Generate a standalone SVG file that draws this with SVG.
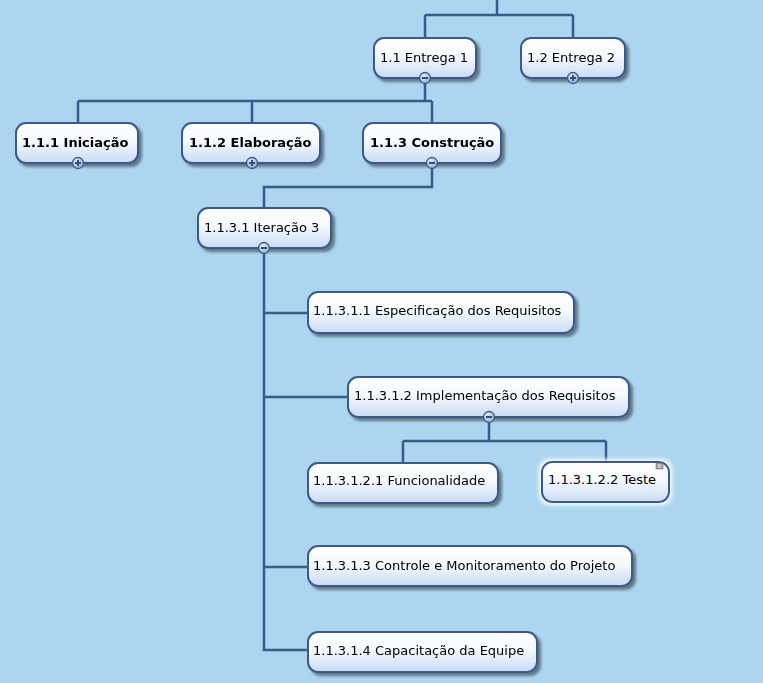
<svg xmlns="http://www.w3.org/2000/svg" width="763" height="683" viewBox="0 0 763 683">
<defs>
<linearGradient id="ng" x1="0" y1="0" x2="0" y2="1">
<stop offset="0" stop-color="#ffffff"/>
<stop offset="0.45" stop-color="#f6f9fe"/>
<stop offset="1" stop-color="#c9dbf3"/>
</linearGradient>
<radialGradient id="bg" cx="0.4" cy="0.35" r="0.7">
<stop offset="0" stop-color="#e6eef7"/>
<stop offset="1" stop-color="#8ea9c9"/>
</radialGradient>
<filter id="sh" x="-10%" y="-20%" width="125%" height="150%">
<feGaussianBlur in="SourceAlpha" stdDeviation="1.5"/>
<feOffset dx="3" dy="3" result="b"/>
<feComponentTransfer><feFuncA type="linear" slope="0.45"/></feComponentTransfer>
<feMerge><feMergeNode/><feMergeNode in="SourceGraphic"/></feMerge>
</filter>
<filter id="glow" x="-20%" y="-40%" width="140%" height="180%">
<feMorphology in="SourceAlpha" operator="dilate" radius="2" result="d"/>
<feGaussianBlur in="d" stdDeviation="2" result="g"/>
<feFlood flood-color="#ffffff" flood-opacity="0.95"/>
<feComposite in2="g" operator="in"/>
<feMerge><feMergeNode/><feMergeNode in="SourceGraphic"/></feMerge>
</filter>
</defs>
<style>
.n{fill:url(#ng);stroke:#3a5a8c;stroke-width:2}
.t{font-family:"DejaVu Sans",Verdana,sans-serif;font-size:13px;fill:#000}
.b{font-weight:bold}
.c{fill:none;stroke:#3a5a8c;stroke-width:2.5}
.k{fill:url(#bg);stroke:#3a5a8c;stroke-width:1.3}
.s{stroke:#2f4f7f;stroke-width:2;fill:none}
</style>
<rect width="763" height="683" fill="#acd6ef"/>
<g id="connectors">
<path class="c" d="M497 0 V15 M425 15 H573 M425 15 V38 M573 15 V38"/>
<path class="c" d="M425 78 V101 M78 101 H432 M78 101 V123 M252 101 V123 M432 101 V123"/>
<path class="c" d="M432 163 V187 H264 V208"/>
<path class="c" d="M264 248 V650 H308 M264 313 H308 M264 397 H348 M264 567 H308"/>
<path class="c" d="M489 417 V441 M403 441 H606 M403 441 V463 M606 441 V463"/>
</g>
<g id="n1_1" filter="url(#sh)"><rect class="n" x="374" y="38" width="102" height="40" rx="10"/><text class="t" x="380" y="61.5">1.1 Entrega 1</text></g>
<g id="n1_2" filter="url(#sh)"><rect class="n" x="521" y="38" width="104" height="40" rx="10"/><text class="t" x="527" y="61.5">1.2 Entrega 2</text></g>
<g id="n1_1_1" filter="url(#sh)"><rect class="n" x="16" y="123" width="122" height="40" rx="10"/><text class="t b" x="22" y="146.5">1.1.1 Iniciação</text></g>
<g id="n1_1_2" filter="url(#sh)"><rect class="n" x="182" y="123" width="138" height="40" rx="10"/><text class="t b" x="189" y="146.5">1.1.2 Elaboração</text></g>
<g id="n1_1_3" filter="url(#sh)"><rect class="n" x="363" y="123" width="138" height="40" rx="10"/><text class="t b" x="370" y="146.5">1.1.3 Construção</text></g>
<g id="n1_1_3_1" filter="url(#sh)"><rect class="n" x="198" y="208" width="133" height="40" rx="10"/><text class="t" x="204" y="231.5">1.1.3.1 Iteração 3</text></g>
<g id="n1_1_3_1_1" filter="url(#sh)"><rect class="n" x="308" y="292" width="266" height="41" rx="10"/><text class="t" x="313" y="315">1.1.3.1.1 Especificação dos Requisitos</text></g>
<g id="n1_1_3_1_2" filter="url(#sh)"><rect class="n" x="348" y="377" width="281" height="40" rx="10"/><text class="t" x="354" y="400">1.1.3.1.2 Implementação dos Requisitos</text></g>
<g id="n1_1_3_1_2_1" filter="url(#sh)"><rect class="n" x="308" y="463" width="190" height="40" rx="10"/><text class="t" x="313" y="484.5">1.1.3.1.2.1 Funcionalidade</text></g>
<g id="n1_1_3_1_2_2"><g filter="url(#glow)"><rect class="n" x="542" y="462" width="127" height="40" rx="10"/></g><text class="t" x="548" y="484">1.1.3.1.2.2 Teste</text>
<rect x="656" y="463" width="7" height="6" fill="#9a9a9a" stroke="#777" stroke-width="0.6"/><path d="M657.5 465 H661.5 M657.5 467 H661.5" stroke="#fff" stroke-width="0.8"/></g>
<g id="n1_1_3_1_3" filter="url(#sh)"><rect class="n" x="308" y="546" width="324" height="40" rx="10"/><text class="t" x="313" y="569.5">1.1.3.1.3 Controle e Monitoramento do Projeto</text></g>
<g id="n1_1_3_1_4" filter="url(#sh)"><rect class="n" x="308" y="632" width="229" height="40" rx="10"/><text class="t" x="313" y="655">1.1.3.1.4 Capacitação da Equipe</text></g>
<g id="toggles">
<g><circle class="k" cx="425" cy="78" r="5.5"/><path class="s" d="M422 78 H428"/></g>
<g><circle class="k" cx="573" cy="78" r="5.5"/><path class="s" d="M570 78 H576 M573 75 V81"/></g>
<g><circle class="k" cx="78" cy="163" r="5.5"/><path class="s" d="M75 163 H81 M78 160 V166"/></g>
<g><circle class="k" cx="252" cy="163" r="5.5"/><path class="s" d="M249 163 H255 M252 160 V166"/></g>
<g><circle class="k" cx="432" cy="163" r="5.5"/><path class="s" d="M429 163 H435"/></g>
<g><circle class="k" cx="264" cy="248" r="5.5"/><path class="s" d="M261 248 H267"/></g>
<g><circle class="k" cx="489" cy="417" r="5.5"/><path class="s" d="M486 417 H492"/></g>
</g>
</svg>
